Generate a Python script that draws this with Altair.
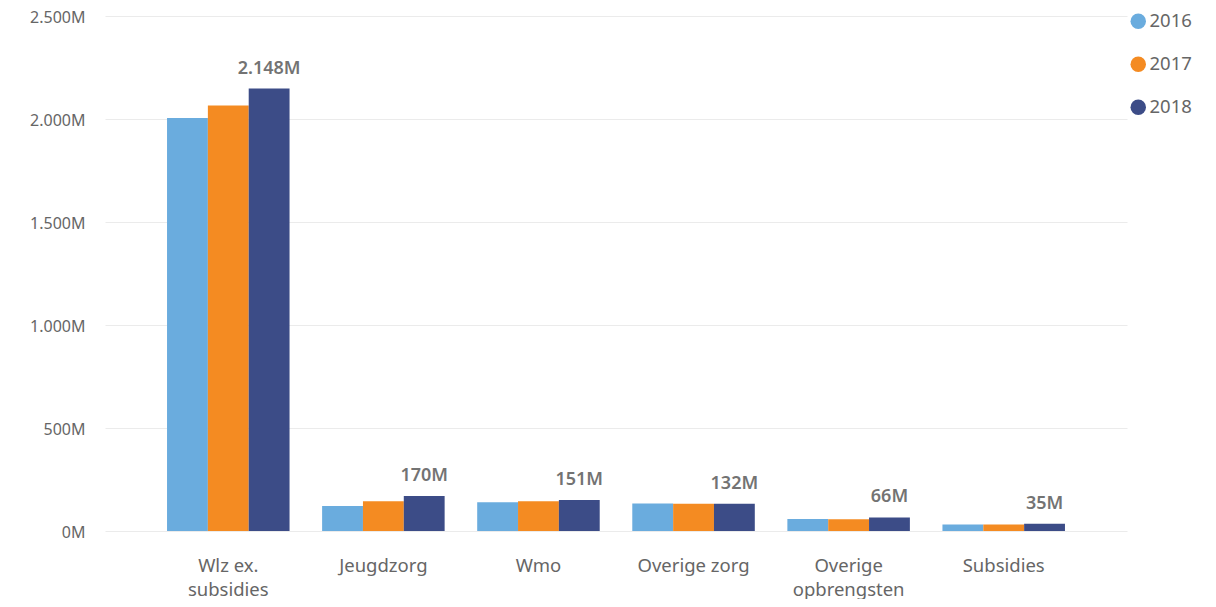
import altair as alt
import pandas as pd

categories = ["Wlz ex. subsidies", "Jeugdzorg", "Wmo", "Overige zorg", "Overige opbrengsten", "Subsidies"]
years = ["2016", "2017", "2018"]
v2016 = [2005, 121, 140, 133, 58, 32]
v2017 = [2066, 145, 145, 132, 57, 32]
v2018 = [2148, 170, 151, 132, 66, 35]
colors = ["#6AACDE", "#F48B22", "#3C4C87"]

rows = []
for i, c in enumerate(categories):
    for y, vals in zip(years, [v2016, v2017, v2018]):
        rows.append({"category": c, "year": y, "value": vals[i]})
df = pd.DataFrame(rows)

FONT = "Noto Sans"
label_expr_x = ("datum.label == 'Wlz ex. subsidies' ? ['Wlz ex.', 'subsidies'] : "
                "datum.label == 'Overige opbrengsten' ? ['Overige', 'opbrengsten'] : datum.label")

x = alt.X("category:N", sort=categories, title=None,
          scale=alt.Scale(paddingInner=0.21, paddingOuter=0.4),
          axis=alt.Axis(labelAngle=0, labelExpr=label_expr_x, labelFont=FONT, labelFontSize=18.5,
                        labelColor="#666666", labelPadding=34, labelLineHeight=24,
                        ticks=False, domain=False, grid=False, labelBaseline="middle"))
y = alt.Y("value:Q", title=None,
          scale=alt.Scale(domain=[0, 2500], nice=False),
          axis=alt.Axis(values=[0, 500, 1000, 1500, 2000, 2500],
                        labelExpr="replace(format(datum.value, ','), ',', '.') + 'M'",
                        labelFont=FONT, labelFontSize=16, labelColor="#666666",
                        labelPadding=20, labelOffset=1, ticks=False, domain=False,
                        gridColor="#EBEBEB", gridWidth=1))
color = alt.Color("year:N", scale=alt.Scale(domain=years, range=colors), title=None,
                  legend=alt.Legend(orient="none", legendX=1024, legendY=-4, symbolType="circle",
                                    symbolSize=240, symbolStrokeWidth=0, labelFont=FONT,
                                    labelFontSize=18.5, labelColor="#666666", rowPadding=24,
                                    labelOffset=2))
xo = alt.XOffset("year:N", sort=years, scale=alt.Scale(domain=years, paddingInner=0, paddingOuter=0))

bars = alt.Chart(df).mark_bar().encode(x=x, y=y, color=color, xOffset=xo)

labels = alt.Chart(df).transform_filter("datum.year == '2018'").mark_text(
    font=FONT, fontSize=18, fontWeight=600, color="#737373", baseline="bottom", dy=-11
).encode(
    x=alt.X("category:N", sort=categories),
    xOffset=xo,
    y="value:Q",
    text=alt.Text("label:N"),
).transform_calculate(label="replace(format(datum.value, ','), ',', '.') + 'M'")

chart = alt.layer(bars, labels).properties(
    width=1022, height=515,
    autosize=alt.AutoSizeParams(type="none"),
    padding={"left": 97, "top": 8, "right": 70, "bottom": 68},
).configure_view(stroke=None)

chart.save("out.html", embed_options={"renderer": "svg", "actions": False})
